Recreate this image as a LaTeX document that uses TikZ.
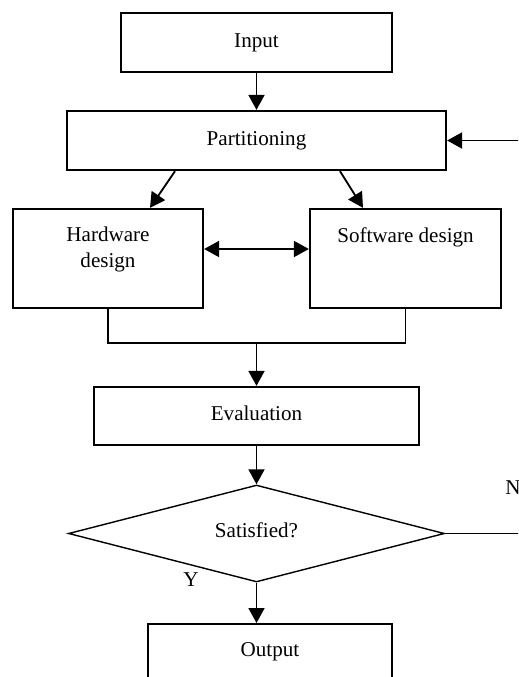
\documentclass[tikz,border=0pt]{standalone}
\usepackage{fontspec}
\setmainfont{Liberation Serif}
\usetikzlibrary{arrows.meta,shapes.geometric}

\tikzset{
  block/.style={draw, line width=1.3pt, inner sep=0pt, font=\fontsize{12}{14}\selectfont},
  toptext/.style={label={[anchor=north, inner sep=0pt, yshift=-0.38cm, align=center, font=\fontsize{12}{14.8}\selectfont]north:#1}},
  flow/.style={line width=1.05pt, -{Triangle[length=0.3cm, width=0.32cm]}},
  link/.style={line width=1.05pt}
}

\begin{document}
\begin{tikzpicture}[x=0.02cm, y=-0.02cm]
  \useasboundingbox (0,0) rectangle (518,677);
  \clip (0,0) rectangle (518,677);
  \node[block, minimum width=5.42cm, minimum height=1.18cm] (input) at (256.5,42.5) {\raisebox{2pt}{Input}};
  \node[block, minimum width=7.58cm, minimum height=1.18cm] (part) at (256.5,140.5) {Partitioning};
  \node[block, minimum width=3.8cm, minimum height=1.98cm, toptext={Hardware\\design}] (hw) at (108,258.5) {};
  \node[block, minimum width=3.82cm, minimum height=1.98cm, toptext={Software design}] (sw) at (405.5,258.5) {};
  \node[block, minimum width=6.5cm, minimum height=1.16cm] (eval) at (256.5,416) {\raisebox{3pt}{Evaluation}};
  \node[draw, diamond, aspect=3.9, line width=0.8pt, inner sep=0pt, minimum width=7.52cm, minimum height=1.94cm,
        font=\fontsize{12}{14}\selectfont] (sat) at (256.5,533.5) {\raisebox{4pt}{Satisfied?}};
  \node[block, anchor=north, minimum width=4.88cm, minimum height=1.6cm, toptext={Output}] (output) at (270,623) {};
  \node[font=\fontsize{12}{14}\selectfont, inner sep=0pt] (y) at (191,580) {Y};
  \node[font=\fontsize{12}{14}\selectfont, inner sep=0pt, anchor=west] (n) at (505,488) {N};
  \coordinate (join) at (256.5,343);
  \coordinate (fb1) at (540,533.5);
  \coordinate (fb2) at (540,140.5);

  \draw[flow] (input) -- (part);
  \draw[flow] ([xshift=-1.63cm]part.south) -- ([xshift=0.84cm]hw.north);
  \draw[flow] ([xshift=1.67cm]part.south) -- ([xshift=-0.85cm]sw.north);
  \draw[flow, {Triangle[length=0.3cm, width=0.32cm]}-{Triangle[length=0.3cm, width=0.32cm]}]
    ([yshift=0.19cm]hw.east) -- ([yshift=0.19cm]sw.west);
  \draw[link] (hw.south) |- (join) -| (sw.south);
  \draw[flow] (join) -- (eval);
  \draw[flow] (eval) -- (sat);
  \draw[flow] (sat.south) -- (sat.south |- output.north);
  \draw[link] (sat.east) -- (fb1) -- (fb2);
  \draw[flow] (fb2) -- (part.east);
\end{tikzpicture}
\end{document}
